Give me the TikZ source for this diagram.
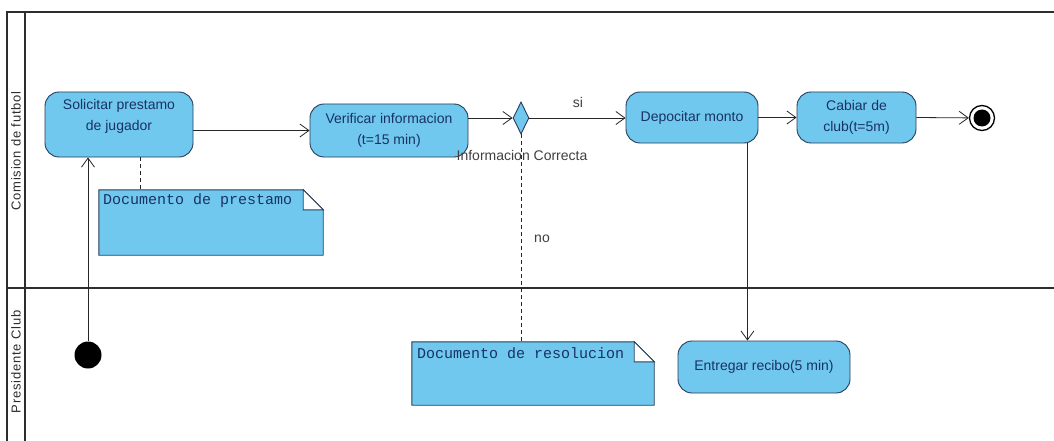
\documentclass[tikz,border=0pt]{standalone}
\usepackage{fontspec}
\setmainfont{Liberation Sans}
\newfontfamily\notefont{Liberation Mono}
\usetikzlibrary{arrows.meta,shapes.geometric}
\definecolor{actfill}{RGB}{112,200,238}
\definecolor{actdraw}{RGB}{40,60,90}
\definecolor{acttext}{RGB}{25,50,100}
\definecolor{lanecol}{RGB}{45,45,45}
\tikzset{
  activity/.style={rectangle, rounded corners=14pt, draw=actdraw, fill=actfill, line width=0.9pt,
    text=acttext, align=center, font=\fontsize{14}{21}\selectfont, inner sep=0pt},
  acttxt/.style={text=acttext, align=center, font=\fontsize{14}{21}\selectfont, inner sep=0pt},
  decision/.style={diamond, draw=actdraw, fill=actfill, line width=0.9pt, inner sep=0pt,
    minimum width=16pt, minimum height=32pt, aspect=0.5},
  notebox/.style={rectangle, inner sep=0pt},
  noteshape/.style={draw=actdraw, fill=actfill, line width=0.9pt},
  notetxt/.style={text=acttext, font=\notefont\fontsize{15}{17}\selectfont, inner sep=0pt, anchor=west},
  arr/.style={-{Straight Barb[length=9pt,width=13pt]}, line width=0.8pt, draw=black!85},
  dashline/.style={dashed, dash pattern=on 4pt off 3pt, line width=0.8pt, draw=black!85},
  lane/.style={line width=1.6pt, draw=lanecol},
  lanelbl/.style={rotate=90, text=lanecol, font=\fontsize{13}{15}\selectfont\addfontfeature{LetterSpace=6}},
  guard/.style={text=black!75, font=\fontsize{14}{16}\selectfont, inner sep=0pt},
  initnode/.style={circle, fill=black, minimum size=27pt, inner sep=0pt},
  finalnode/.style={circle, draw=black, fill=white, line width=1.3pt, minimum size=25pt, inner sep=0pt}
}
\begin{document}
\begin{tikzpicture}[x=1pt,y=-1pt]
\useasboundingbox (0,0) rectangle (1054,441);
\fill[white] (0,0) rectangle (1054,441);

% swimlanes
\draw[lane] (7,441) -- (7,12) -- (1054,12);
\draw[lane] (25,12) -- (25,441);
\draw[lane] (7,288) -- (1054,288);
\node[lanelbl] (laneA) at (16,151) {Comision de futbol};
\node[lanelbl] (laneB) at (16,362) {Presidente Club};

% activities
\node[activity, minimum width=148pt, minimum height=65pt] (sol) at (119,124.5) {};
\node[acttxt] (soltxt) at (119,116) {Solicitar prestamo\\de jugador};
\node[activity, minimum width=158pt, minimum height=53pt] (ver) at (389,130.5) {Verificar informacion\\(t=15 min)};
\node[decision] (dec) at (521,118) {};
\node[activity, minimum width=132pt, minimum height=51pt] (dep) at (692,117.5) {Depocitar monto};
\node[activity, minimum width=119pt, minimum height=51pt] (cab) at (856.5,117.5) {Cabiar de\\club(t=5m)};
\node[finalnode] (fin) at (982,118) {};
\fill[black] (fin.center) circle (8.5pt);
\node[activity, minimum width=172pt, minimum height=52pt] (ent) at (764,367) {Entregar recibo(5 min)};
\node[initnode] (init) at (88,355) {};

% notes
\node[notebox, minimum width=224pt, minimum height=65pt] (n1) at (211,222.5) {};
\path[noteshape] (n1.north west) -- ([xshift=-20pt]n1.north east) -- ([yshift=-20pt]n1.north east)
  -- (n1.south east) -- (n1.south west) -- cycle;
\path[noteshape, fill=white] ([xshift=-20pt]n1.north east) -- ([xshift=-20pt,yshift=-20pt]n1.north east)
  -- ([yshift=-20pt]n1.north east) -- cycle;
\node[notetxt] (n1txt) at ([xshift=4pt,yshift=-11pt]n1.north west) {Documento de prestamo};

\node[notebox, minimum width=242pt, minimum height=63pt] (n2) at (533,373.5) {};
\path[noteshape] (n2.north west) -- ([xshift=-20pt]n2.north east) -- ([yshift=-20pt]n2.north east)
  -- (n2.south east) -- (n2.south west) -- cycle;
\path[noteshape, fill=white] ([xshift=-20pt]n2.north east) -- ([xshift=-20pt,yshift=-20pt]n2.north east)
  -- ([yshift=-20pt]n2.north east) -- cycle;
\node[notetxt] (n2txt) at ([xshift=5pt,yshift=-11pt]n2.north west) {Documento de resolucion};

% connectors
\draw[arr] (init) -- (init |- sol.south);
\draw[arr] (sol.east |- ver.west) -- (ver.west);
\draw[arr] (ver.east |- dec.west) -- (dec.west);
\draw[arr] (dec.east) -- (dec.east -| dep.west);
\draw[arr] (dep.east) -- (cab.west);
\draw[arr] (cab.east) -- (fin);
\draw[arr] ([xshift=-11pt]dep.south east) -- ([xshift=-11pt]dep.south east |- ent.north);
\draw[dashline] ([xshift=21pt]sol.south) -- ([xshift=21pt]sol.south |- n1.north);
\draw[dashline] (dec.south) -- (dec.south |- n2.north);

% labels
\node[guard] (lsi) at (578,102) {si};
\node[guard] (lno) at (542,239) {no};
\node[guard] (lic) at (522,155) {Informacion Correcta};
\end{tikzpicture}
\end{document}
